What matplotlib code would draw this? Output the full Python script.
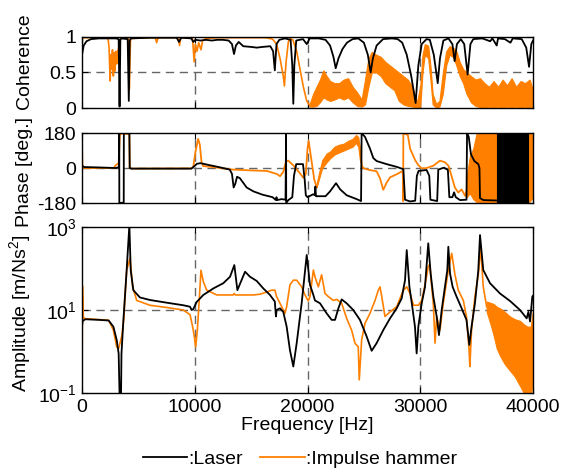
import numpy as np
import matplotlib
matplotlib.use('Agg')
import matplotlib.pyplot as plt
from matplotlib.lines import Line2D

plt.rcParams['font.family'] = ['Liberation Sans', 'DejaVu Sans']
plt.rcParams['mathtext.default'] = 'regular'
plt.rcParams['axes.unicode_minus'] = False
plt.rcParams['font.size'] = 14

# ---- coherence ----
coh_laser_f = [0, 150, 400, 800, 1500, 3000, 3250, 3330, 3400, 3500, 4050, 4150, 4230, 4350, 6000, 8400, 8600, 8800,
               9700, 9870, 10050, 10500, 11000, 11500, 12000, 12500, 13000, 13300, 13480, 13650, 13900, 14300, 15000,
               15500, 16000, 16700, 16950, 17100, 17250, 17500, 18000, 18500, 18650, 18740, 18830, 19000, 19600, 19930,
               20200, 21000, 21600, 22000, 22300, 22500, 22750, 23100, 23500, 24000, 24500, 25000, 25350, 25600, 25800,
               26130, 26700, 27500, 28000, 28400, 28800, 29200, 29590, 29830, 30130, 30560, 30850, 31200, 31550, 31750,
               32050, 32500, 32850, 33050, 33250, 33600, 33900, 34200, 34450, 34700, 35500, 36200, 36400, 36780, 36900,
               37500, 38000, 38200, 39000, 39400, 39650, 39850, 40000]
coh_laser = [0.75, 0.88, 0.94, 0.97, 0.98, 0.98, 0.97, 0.02, 0.96, 0.98, 0.97, 0.1, 0.95, 0.98, 0.99, 0.99, 0.93, 0.99,
             0.98, 0.93, 0.96, 0.95, 0.96, 0.95, 0.96, 0.96, 0.95, 0.9, 0.76, 0.88, 0.93, 0.87, 0.86,
             0.85, 0.86, 0.87, 0.8, 0.53, 0.9, 0.96, 0.98, 0.96, 0.6, 0.06, 0.6, 0.95, 0.97, 0.9,
             0.98, 0.98, 0.96, 0.88, 0.72, 0.56, 0.7, 0.83, 0.92, 0.97, 0.98, 0.92, 0.75, 0.5, 0.7,
             0.88, 0.97, 0.98, 0.97, 0.92, 0.75, 0.45, 0.07, 0.6, 0.9, 0.97, 0.96, 0.75, 0.35, 0.7,
             0.95, 0.98, 0.9, 0.66, 0.9, 0.97, 0.9, 0.47, 0.9, 0.97, 0.98, 0.94, 0.98, 0.88, 0.98,
             0.97, 0.92, 0.98, 0.97, 0.85, 0.58, 0.9, 0.95]

coh_hammer_f = [0, 60, 2300, 2400, 2450, 2500, 2550, 2620, 2700, 2780, 2850, 2920, 3000, 3080, 3150, 3250, 3400, 3500,
                4100, 4200, 4300, 6500, 6620, 6750, 8550, 8650, 8750, 9800, 9950, 10050, 10200, 10350, 10550, 10700,
                11000, 12000, 16300, 16900, 17260, 17560, 17850, 17950, 18100, 18300, 18450, 18700, 19040, 19330,
                19630, 19930, 20220]
coh_hammer = [0.9, 0.99, 0.99, 0.85, 0.6, 0.38, 0.75, 0.55, 0.82, 0.45, 0.78, 0.52, 0.8, 0.62, 0.78, 0.85, 0.97, 0.99,
              0.98, 0.26, 0.98, 0.99, 0.92, 0.99, 0.99, 0.88, 0.99, 0.98, 0.65, 0.9, 0.8, 0.92, 0.82, 0.95,
              0.98, 0.99, 0.99, 0.97, 0.9, 0.7, 0.45, 0.31, 0.65, 0.93, 0.98, 0.96, 0.8, 0.55,
              0.3, 0.1, 0.03]
# noisy part of the hammer coherence (lower / upper envelope)
coh_band_f = [20200, 20500, 20800, 21100, 21400, 21700, 22000, 22400, 22800, 23200, 23600, 24000, 24400, 24800, 25100,
              25400, 25700, 26100, 26500, 26900, 27300, 27700, 28100, 28500, 28900, 29300, 29700, 30000, 30200, 30400,
              30700, 30900, 31100, 31400, 31700, 32000, 32300, 32600, 32900, 33200, 33500, 33800, 34100, 34500, 34900,
              35300, 35700, 36100, 36500, 36900, 37300, 37700, 38100, 38500, 38900, 39300, 39700, 40000]
coh_band_lo = [0.02, 0.02, 0.03, 0.08, 0.15, 0.12, 0.1, 0.12, 0.15, 0.12, 0.15, 0.08, 0.03, 0.02, 0.05,
               0.3, 0.5, 0.5, 0.45, 0.35, 0.3, 0.25, 0.1, 0.05, 0.03, 0.02, 0.01, 0.02, 0.5, 0.75,
               0.7, 0.4, 0.05, 0.01, 0.02, 0.2, 0.6, 0.75, 0.72, 0.6, 0.45, 0.35, 0.2, 0.08, 0.03,
               0.01, 0.0, 0.02, 0.01, 0.02, 0.0, 0.02, 0.01, 0.02, 0.0, 0.02, 0.0, 0.02]
coh_band_hi = [0.06, 0.2, 0.3, 0.4, 0.53, 0.45, 0.38, 0.35, 0.35, 0.4, 0.42, 0.3, 0.22, 0.12, 0.4,
               0.7, 0.79, 0.75, 0.72, 0.65, 0.6, 0.55, 0.5, 0.45, 0.4, 0.3, 0.08, 0.3, 0.75, 0.9,
               0.88, 0.6, 0.2, 0.06, 0.1, 0.5, 0.8, 0.87, 0.85, 0.8, 0.65, 0.55, 0.5, 0.45, 0.4,
               0.42, 0.35, 0.3, 0.38, 0.3, 0.4, 0.32, 0.42, 0.3, 0.38, 0.35, 0.4, 0.25]

# ---- phase ----
ph_laser_f = [0, 200, 1500, 3000, 3290, 3300, 3310, 3700, 3710, 4200, 4230, 4400, 9700, 9870, 10200, 10500, 11300,
              12200, 13100, 13300, 13450, 13600, 13750, 14000, 14600, 15200, 16000, 16900, 17200, 17250, 17300, 17700,
              18050, 18100, 18110, 18300, 18650, 18800, 19000, 19600, 19750, 19850, 20000, 20500, 20650, 20700, 20750,
              21600, 22000, 22530, 22900, 23470, 24360, 24750, 24800, 25100, 25540, 25840, 26130, 27020, 27910,
              28500, 28650, 29100, 29550, 29700, 29850, 30560, 30800, 30900, 31500, 31600, 32100, 32450, 32580,
              32850, 33000, 33150, 33530, 34100, 34150, 34300, 34500, 34800, 35150, 35250, 35300, 35600, 36780]
ph_laser = [12, 5, 3, 0, 5, 180, -180, -178, 180, 178, 0, -3, -3, 5, 22, 25, 15,
            4, -8, -30, -100, -80, -45, -52, -100, -120, -137, -150, -165, -150, -165, -160,
            -163, 180, -180, -165, -150, -40, 20, 20, -60, -140, -150, -135, -140, -95, -145,
            -145, -120, -78, -110, -140, -160, -170, 180, 160, 100, 51, 36, 20, 6,
            -6, -163, -172, -168, -40, -15, -10, -40, -163, -170, -8, 2, -10, -150,
            -150, -125, -150, -165, -163, 180, 160, 70, 36, 20, 0, -155, -165, -167]
# laser phase wraps so fast above ~36.8 kHz that it fills the whole range
ph_laser_band_f = [36780, 39600]
ph_laser_band_lo = [-180, -180]
ph_laser_band_hi = [180, 180]

ph_hammer_f = [0, 40, 150, 2800, 3000, 3250, 3350, 3500, 4200, 4230, 4400, 9700, 9870, 10050, 10300, 10450, 10600,
               10750, 11650, 12500, 13400, 14900, 16380, 17260, 17560, 17850, 18100, 18300, 18800, 19300, 19630,
               19850, 20000, 20100, 20300, 20600, 20800]
ph_hammer = [120, 10, 0, 0, 15, 25, 170, 178, 175, 0, -3, -2, 5, 80, 150, 120, 30,
             10, 5, -2, -8, -12, -15, -30, -42, -20, 35, 38, 10, -25, -50,
             -30, 100, 140, 60, -60, -95]
ph_hammer2_f = [24800, 25000, 25500, 26130, 26430, 26720, 27020, 27320, 27910, 28450, 28480, 28500, 28900, 29100,
                29550, 29830, 30130, 30560, 31160, 31750, 32180, 32500, 32770, 33070, 33370, 33670, 33970, 34100]
ph_hammer2 = [10, -2, -10, -17, -53, -112, -75, -48, -32, -15, -170, 180, 170, 100,
              40, 15, -2, 0, 12, 38, 30, 12, -40, -100, -126, -110, -143, -120]
ph_band_f = [20800, 21000, 21300, 21700, 22000, 22400, 22800, 23200, 23600, 24000, 24300, 24500, 24650, 24800]
ph_band_lo = [-100, -60, 0, 30, 50, 70, 80, 90, 100, 110, 130, 110, 40, 5]
ph_band_hi = [-85, -30, 40, 75, 85, 110, 120, 125, 140, 150, 170, 160, 100, 15]
ph_band2_f = [34100, 34400, 34700, 35000, 36780, 39600, 40000]
ph_band2_lo = [-150, -130, -160, -175, -175, -180, -150]
ph_band2_hi = [-50, 60, 100, 180, 180, 180, 180]

# ---- amplitude ----
amp_laser_f = [0, 60, 300, 1500, 2360, 2780, 3080, 3250, 3330, 3460, 3500, 3670, 3960, 4200, 4320, 4550, 5140, 6030,
               7510, 8990, 9580, 9720, 9870, 10160, 10760, 11650, 12530, 13130, 13510, 13780, 14460, 14900, 15490,
               16080, 16670, 17100, 17200, 17260, 17560, 17850, 18150, 18440, 18740, 19040, 19480, 19930, 20220,
               20520, 20660, 21110, 21700, 22140, 22440, 22740, 23030, 23470, 24060, 24650, 25250, 25690, 26130,
               26720, 27320, 27910, 28350, 28650, 28800, 29040, 29250, 29530, 29680, 29830, 30130, 30420, 30710,
               30920, 31160, 31460, 31660, 31900, 32190, 32400, 32490, 32640, 32870, 33220, 33670, 34100, 34350,
               34550, 34850, 35150, 35300, 35590, 36190, 37070, 37960, 38850, 39440, 39590, 39740, 39940, 40000]
amp_laser = [4, 5.5, 6.0, 5.8, 5.6, 4.0, 1.9, 0.9, 0.09, 0.09, 0.9, 5.7, 91, 1100, 90, 30, 20, 17.4,
             15, 13, 12, 10, 10.5, 15.5, 23, 33, 44, 63, 120, 30, 83, 63, 50,
             33, 23, 16, 7, 10, 11, 9, 4, 1.1, 0.44, 1.6, 14.5, 210, 40,
             23, 17, 14.5, 8.3, 5.8, 5.8, 11, 18, 14.5, 10, 5.8, 2.3, 1.05, 1.6,
             3.3, 6.3, 11, 19, 52, 275, 36, 14.5, 4, 0.91, 4, 14.5, 36, 400,
             76, 21, 6.9, 2.5, 10, 36, 91, 330, 76, 36, 21, 11, 5.8, 1.45,
             4, 14.5, 91, 630, 91, 44, 25, 16.5, 10, 6.3, 9, 5.3, 21, 22]

amp_hammer_f = [0, 40, 120, 300, 2360, 2780, 3080, 3250, 3550, 3700, 3960, 4260, 4490, 4850, 6030, 7510, 8990, 9580,
                9810, 9960, 10080, 10230, 10380, 10550, 10760, 11060, 11950, 13420, 13500, 13600, 15200, 15790, 16380,
                16820, 17110, 17260, 17710, 18000, 18150, 18440, 18740, 19040, 19480, 19780, 20070, 20220, 20520,
                20660, 20960, 21250, 21550, 21850, 22290, 22590, 23030, 23470, 23910, 24210, 24500, 24590, 24800,
                25100, 25540, 25990, 26280, 26430, 26600, 26870, 27320, 27910, 28500, 28800, 29090, 29400, 29830,
                30130, 30420, 30710, 30850, 31000, 31160, 31310, 31460, 31750, 32040, 32490, 32790, 33080, 33370,
                33820, 34100, 34330, 34400, 34550, 34850, 35150, 35350, 35590, 35890]
amp_hammer = [0.12, 38, 6.5, 6.2, 5.7, 3.3, 1.3, 1.2, 2.5, 6, 90, 175, 36, 17, 13, 11.5, 10, 7.7,
              4, 2.3, 1.3, 3.3, 14.5, 90, 48, 30, 23, 23, 25, 23, 23, 24, 27,
              30, 30, 21, 12, 8.3, 12, 40, 52, 52, 36, 23, 16.5, 21, 91,
              63, 36, 70, 25, 21, 17, 18, 14.5, 6.3, 3.3, 1.6, 1.3, 0.21, 1.9,
              4.8, 8.3, 17, 30, 36, 20, 7, 9, 12, 30, 36, 25, 13, 13,
              17, 40, 110, 125, 40, 14, 1.6, 7, 3.3, 14.5, 91, 230, 70, 30,
              17, 6.9, 1.1, 0.44, 3.3, 21, 70, 330, 36, 12]
amp_band_f = [35890, 36190, 36500, 36780, 37070, 37500, 37960, 38400, 38850, 39200, 39500, 39800, 40000]
amp_band_lo = [9, 5, 2.5, 1.2, 0.8, 0.5, 0.35, 0.25, 0.15, 0.1, 0.09, 0.09, 0.2]
amp_band_hi = [16, 15, 14, 12, 11, 9, 7, 6, 5.5, 4.5, 4, 4, 10]

c_laser = 'black'
c_hammer = '#ff8000'
grid_kw = dict(color='0.4', ls=(0, (6, 4)), lw=1, zorder=1)

fig = plt.figure(figsize=(5.66, 4.76), dpi=100)
ax1 = fig.add_axes([0.1449, 0.7731, 0.7968, 0.1492])
ax2 = fig.add_axes([0.1449, 0.5735, 0.7968, 0.1470])
ax3 = fig.add_axes([0.1449, 0.1737, 0.7968, 0.3500])

# coherence
ax1.plot(coh_hammer_f, coh_hammer, color=c_hammer, lw=1.2, zorder=2)
ax1.fill_between(coh_band_f, coh_band_lo, coh_band_hi, color=c_hammer, lw=0.8, zorder=2)
ax1.plot(coh_laser_f, coh_laser, color=c_laser, lw=1.3, zorder=3)
ax1.axhline(0.5, **grid_kw)
ax1.set_ylim(0, 1)
ax1.set_yticks([0, 0.5, 1])
ax1.set_yticklabels(['0', '0.5', '1'])
ax1.set_ylabel('Coherence')
ax1.yaxis.set_label_coords(-0.108, 0.66)

# phase
ax2.plot(ph_hammer_f, ph_hammer, color=c_hammer, lw=1.3, zorder=2)
ax2.plot(ph_hammer2_f, ph_hammer2, color=c_hammer, lw=1.3, zorder=2)
ax2.fill_between(ph_band_f, ph_band_lo, ph_band_hi, color=c_hammer, lw=0.8, zorder=2)
ax2.fill_between(ph_band2_f, ph_band2_lo, ph_band2_hi, color=c_hammer, lw=0.8, zorder=2)
ax2.plot(ph_laser_f, ph_laser, color=c_laser, lw=1.3, zorder=3)
ax2.fill_between(ph_laser_band_f, ph_laser_band_lo, ph_laser_band_hi, color=c_laser, lw=0.8, zorder=3)
ax2.axhline(0, **grid_kw)
ax2.set_ylim(-180, 180)
ax2.set_yticks([-180, 0, 180])
ax2.set_ylabel('Phase [deg.]')
ax2.yaxis.set_label_coords(-0.108, 0.45)

# amplitude
ax3.plot(amp_hammer_f, amp_hammer, color=c_hammer, lw=1.2, zorder=2)
ax3.fill_between(amp_band_f, amp_band_lo, amp_band_hi, color=c_hammer, lw=0.8, zorder=2)
ax3.plot(amp_laser_f, amp_laser, color=c_laser, lw=1.3, zorder=3)
ax3.axhline(10, **grid_kw)
ax3.set_yscale('log')
ax3.set_ylim(0.1, 1000)
ax3.set_yticks([0.1, 10, 1000])
ax3.set_yticklabels(['10$^{-1}$', '10$^{1}$', '10$^{3}$'])
ax3.minorticks_off()
ax3.set_ylabel('Amplitude [m/Ns$^2$]')
ax3.yaxis.set_label_coords(-0.108, 0.48)
ax3.set_xlabel('Frequency [Hz]', labelpad=1)

for ax in (ax1, ax2, ax3):
    for xv in (10000, 20000, 30000):
        ax.axvline(xv, **grid_kw)
    ax.set_xlim(0, 40000)
    ax.set_xticks([0, 10000, 20000, 30000, 40000])
    ax.tick_params(direction='in', length=4, top=True, right=True, pad=4)
    for s in ax.spines.values():
        s.set_linewidth(1.0)
ax1.set_xticklabels([])
ax2.set_xticklabels([])

handles = [Line2D([], [], color=c_laser, lw=1.3), Line2D([], [], color=c_hammer, lw=1.3)]
fig.legend(handles, [':Laser', ':Impulse hammer'], loc='lower center', ncol=2, frameon=False,
           bbox_to_anchor=(0.53, -0.02), handlelength=2.3, handletextpad=0.05, columnspacing=0.9)

fig.savefig('out.png', dpi=100)
